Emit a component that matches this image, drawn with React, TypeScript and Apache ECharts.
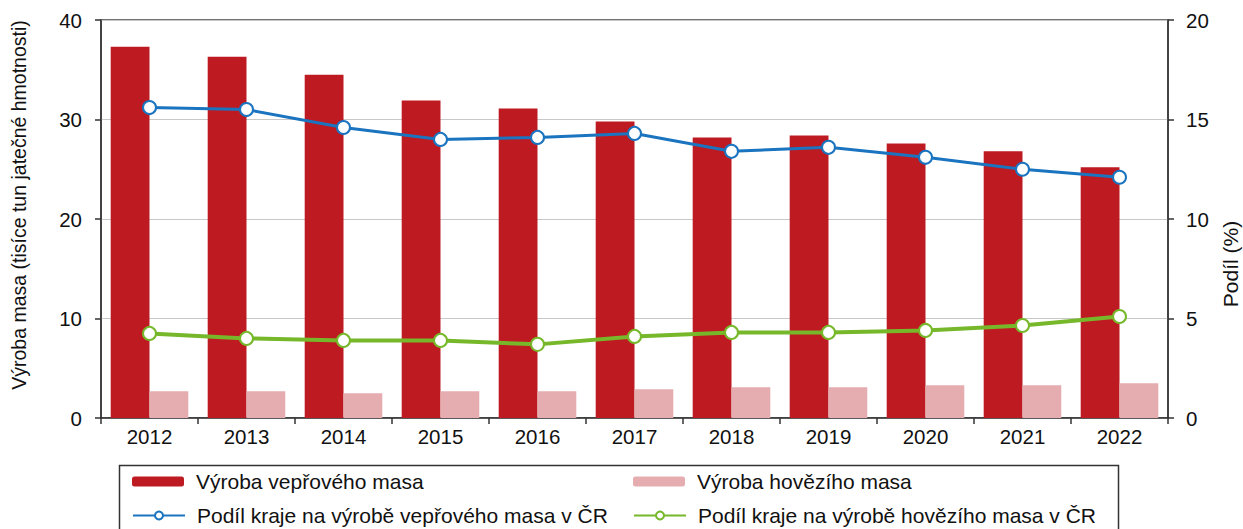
import React, { useEffect, useRef } from "react";
import * as echarts from "echarts";

const years = ["2012", "2013", "2014", "2015", "2016", "2017", "2018", "2019", "2020", "2021", "2022"];
const porkProduction = [37.3, 36.3, 34.5, 31.9, 31.1, 29.8, 28.2, 28.4, 27.6, 26.8, 25.2];
const beefProduction = [2.7, 2.7, 2.5, 2.7, 2.7, 2.9, 3.1, 3.1, 3.3, 3.3, 3.5];
const porkShare = [15.6, 15.5, 14.6, 14.0, 14.1, 14.3, 13.4, 13.6, 13.1, 12.5, 12.1];
const beefShare = [4.25, 4.0, 3.9, 3.9, 3.7, 4.1, 4.3, 4.3, 4.4, 4.65, 5.1];

const leftTicks = [0, 10, 20, 30, 40];
const rightTicks = [0, 5, 10, 15, 20];

const names = {
  pork: "Výroba vepřového masa",
  beef: "Výroba hovězího masa",
  porkShare: "Podíl kraje na výrobě vepřového masa v ČR",
  beefShare: "Podíl kraje na výrobě hovězího masa v ČR",
};

const FONT = "'Liberation Sans', Arial, sans-serif";
const TXT = "#111";

export default function App() {
  const ref = useRef<HTMLDivElement>(null);
  useEffect(() => {
    if (!ref.current) return;
    const chart = echarts.init(ref.current, undefined, { renderer: "svg" });
    const legendBase = {
      orient: "horizontal",
      itemWidth: 52,
      itemHeight: 10,
      itemGap: 10,
      padding: 0,
      textStyle: { fontFamily: FONT, fontSize: 21, color: TXT, padding: [0, 0, 0, 7] },
      selectedMode: false,
    };
    chart.setOption({
      animation: false,
      textStyle: { fontFamily: FONT },
      grid: {
        left: 101,
        right: 75,
        top: 20,
        bottom: 111,
        show: true,
        borderColor: "#444",
        borderWidth: 1.5,
      },
      legend: [
        { ...legendBase, data: [names.pork], left: 132, top: 471 },
        { ...legendBase, data: [names.beef], left: 633, top: 471 },
        { ...legendBase, data: [names.porkShare], left: 132, top: 505 },
        { ...legendBase, data: [names.beefShare], left: 633, top: 505 },
      ],
      graphic: [
        {
          type: "rect",
          shape: { x: 119.5, y: 465.5, width: 999, height: 80 },
          style: { fill: "none", stroke: "#333", lineWidth: 1.5 },
          silent: true,
        },
        {
          type: "text",
          x: 1230,
          y: 264,
          rotation: Math.PI / 2,
          style: {
            text: "Podíl (%)",
            fontFamily: FONT,
            fontSize: 21,
            fill: TXT,
            align: "center",
            verticalAlign: "middle",
          },
          silent: true,
        },
      ],
      xAxis: {
        type: "category",
        data: years,
        axisLine: { lineStyle: { color: "#333", width: 1.5 } },
        axisTick: { show: true, length: 6, lineStyle: { color: "#333", width: 1.5 } },
        axisLabel: { fontSize: 20.5, color: TXT, margin: 8, fontFamily: FONT },
      },
      yAxis: [
        {
          type: "value",
          min: leftTicks[0],
          max: leftTicks[leftTicks.length - 1],
          interval: 10,
          name: "Výroba masa (tisíce tun jatečné hmotnosti)",
          nameLocation: "middle",
          nameRotate: 90,
          nameGap: 72,
          nameTextStyle: { fontSize: 19.5, color: TXT, fontFamily: FONT, padding: [0, 0, 0, 28] },
          axisLine: { show: true, lineStyle: { color: "#333", width: 1.5 } },
          axisTick: { show: true, length: 6, lineStyle: { color: "#333", width: 1.5 } },
          axisLabel: { fontSize: 20.5, color: TXT, margin: 19, fontFamily: FONT },
          splitLine: { show: true, lineStyle: { color: "#c8c8c8", width: 1 } },
        },
        {
          type: "value",
          min: rightTicks[0],
          max: rightTicks[rightTicks.length - 1],
          interval: 5,
          position: "right",
          axisLine: { show: true, lineStyle: { color: "#333", width: 1.5 } },
          axisTick: { show: true, length: 6, lineStyle: { color: "#333", width: 1.5 } },
          axisLabel: { fontSize: 20.5, color: TXT, margin: 18, fontFamily: FONT },
          splitLine: { show: false },
        },
      ],
      series: [
        {
          name: names.pork,
          type: "bar",
          yAxisIndex: 0,
          data: porkProduction,
          barGap: "0%",
          barCategoryGap: "20%",
          itemStyle: { color: "#be1a22" },
        },
        {
          name: names.beef,
          type: "bar",
          yAxisIndex: 0,
          data: beefProduction,
          itemStyle: { color: "#e6adb1" },
        },
        {
          name: names.porkShare,
          type: "line",
          yAxisIndex: 1,
          data: porkShare,
          symbol: "circle",
          symbolSize: 13,
          lineStyle: { color: "#1a74bf", width: 3 },
          itemStyle: { color: "#fff", borderColor: "#1a74bf", borderWidth: 2 },
          z: 5,
        },
        {
          name: names.beefShare,
          type: "line",
          yAxisIndex: 1,
          data: beefShare,
          symbol: "circle",
          symbolSize: 13,
          lineStyle: { color: "#76b82a", width: 4 },
          itemStyle: { color: "#fff", borderColor: "#76b82a", borderWidth: 2 },
          z: 5,
        },
      ],
    });
    return () => chart.dispose();
  }, []);
  return (
    <div
      ref={ref}
      style={{ position: "absolute", left: 0, top: 0, width: 1243, height: 529, overflow: "hidden" }}
    />
  );
}
